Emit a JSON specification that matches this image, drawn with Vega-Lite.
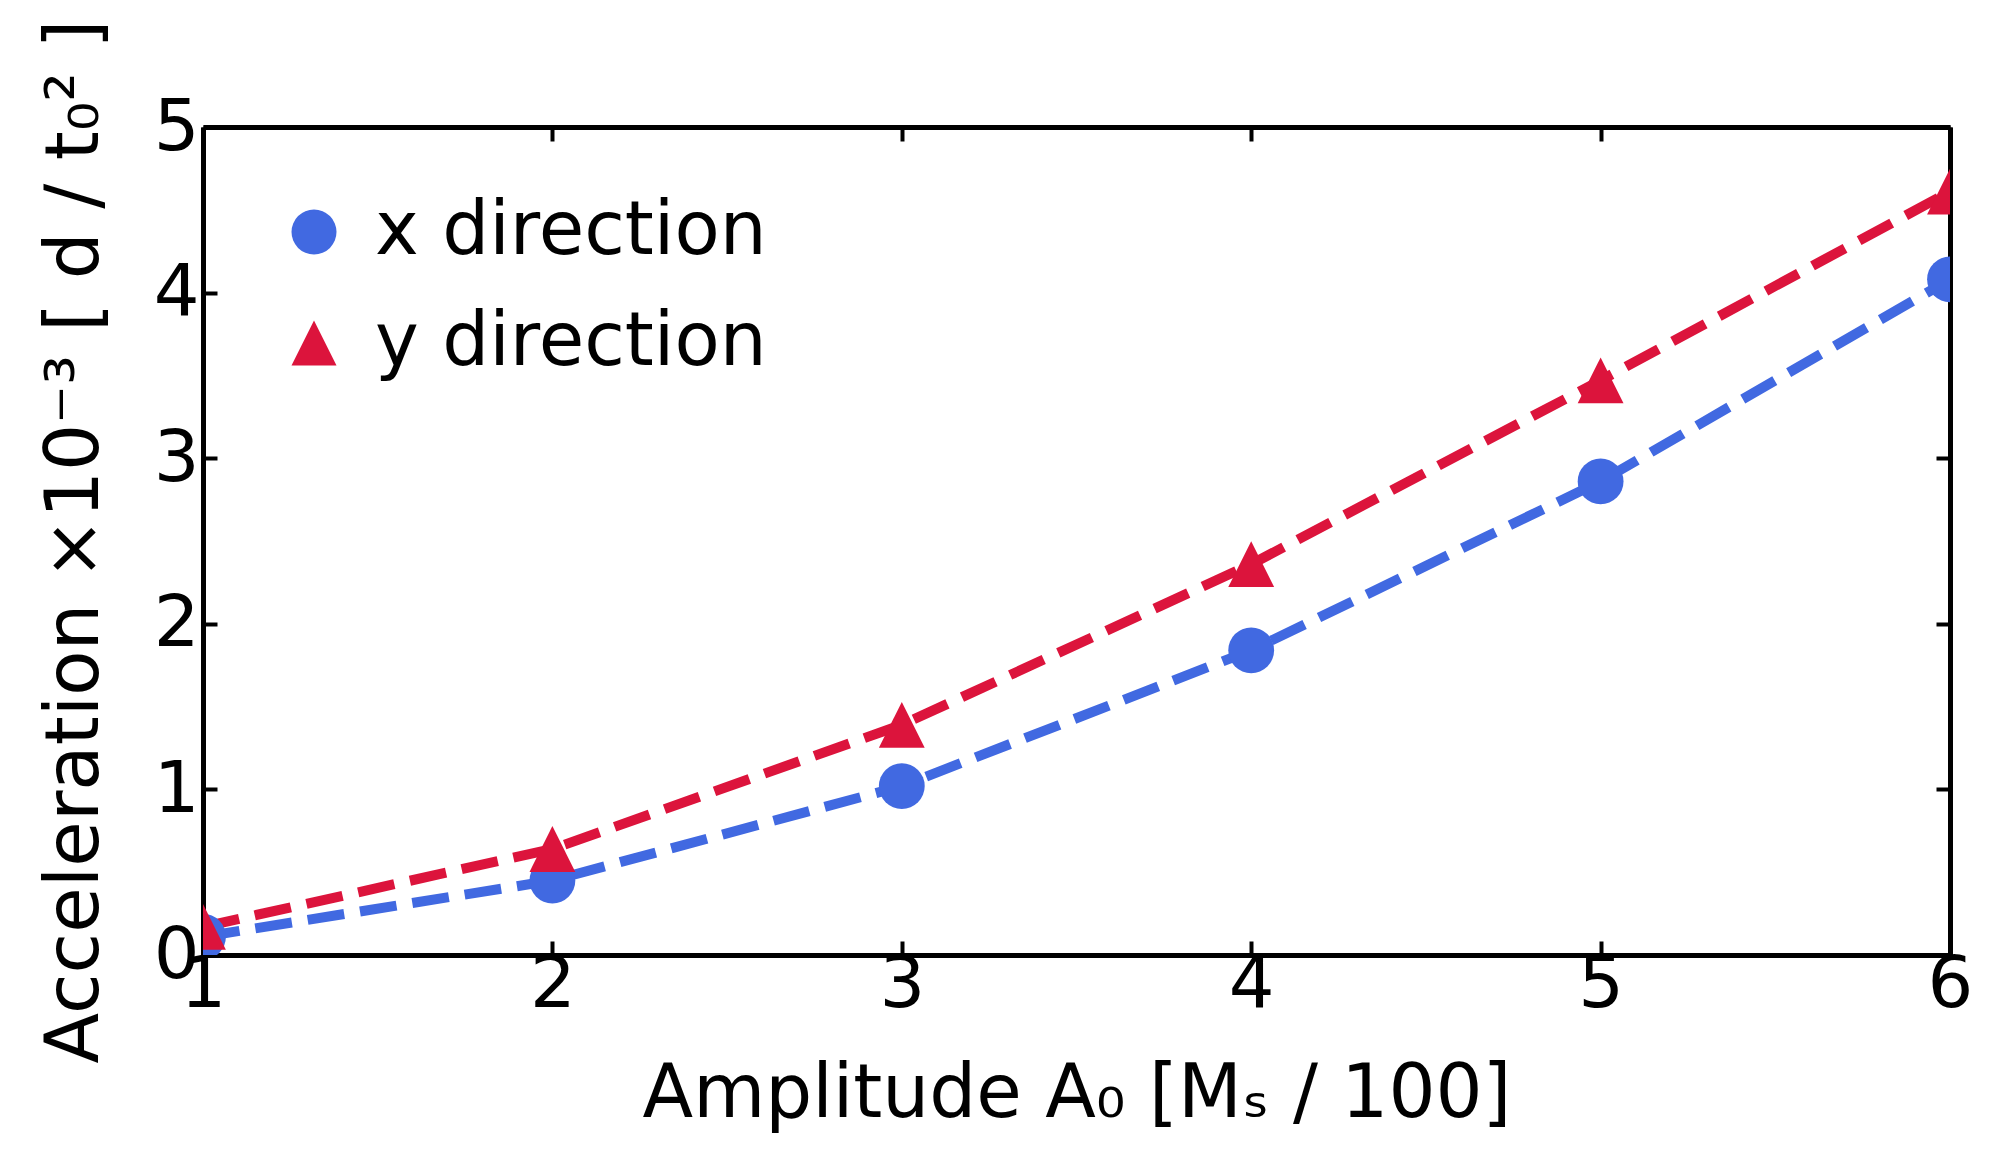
{
  "$schema": "https://vega.github.io/schema/vega-lite/v6.json",
  "description": "Acceleration vs amplitude in x and y direction",
  "width": 1747,
  "height": 828,
  "autosize": {"type": "none"},
  "padding": {"left": 203, "top": 127, "right": 47, "bottom": 211},
  "background": "white",
  "data": {
    "values": [
      {"A0": 1, "acc": 0.11, "series": "x direction"},
      {"A0": 2, "acc": 0.45, "series": "x direction"},
      {"A0": 3, "acc": 1.02, "series": "x direction"},
      {"A0": 4, "acc": 1.84, "series": "x direction"},
      {"A0": 5, "acc": 2.86, "series": "x direction"},
      {"A0": 6, "acc": 4.08, "series": "x direction"},
      {"A0": 1, "acc": 0.17, "series": "y direction"},
      {"A0": 2, "acc": 0.64, "series": "y direction"},
      {"A0": 3, "acc": 1.39, "series": "y direction"},
      {"A0": 4, "acc": 2.36, "series": "y direction"},
      {"A0": 5, "acc": 3.47, "series": "y direction"},
      {"A0": 6, "acc": 4.61, "series": "y direction"}
    ]
  },
  "encoding": {
    "color": {
      "field": "series", "type": "nominal",
      "scale": {"domain": ["x direction", "y direction"], "range": ["#4169E1", "#DC143C"]},
      "legend": {"title": null, "orient": "none", "legendX": 74, "legendY": 68}
    }
  },
  "layer": [
    {
      "mark": {"type": "line", "strokeWidth": 10, "strokeDash": [37, 16], "clip": true},
      "encoding": {
        "x": {
          "field": "A0", "type": "quantitative",
          "scale": {"domain": [1, 6], "nice": false, "zero": false},
          "axis": {"orient": "bottom", "values": [1, 2, 3, 4, 5, 6], "title": "Amplitude A₀ [Mₛ / 100]", "titlePadding": 38}
        },
        "y": {
          "field": "acc", "type": "quantitative",
          "scale": {"domain": [0, 5], "nice": false},
          "axis": {"orient": "left", "values": [0, 1, 2, 3, 4, 5], "title": "Acceleration ×10⁻³ [ d / t₀² ]", "titlePadding": 40}
        }
      }
    },
    {
      "mark": {"type": "point", "filled": true, "opacity": 1, "size": 2100, "clip": true},
      "encoding": {
        "x": {
          "field": "A0", "type": "quantitative",
          "axis": {"orient": "top", "values": [1, 2, 3, 4, 5, 6], "labels": false, "title": null}
        },
        "y": {
          "field": "acc", "type": "quantitative",
          "axis": {"orient": "right", "values": [0, 1, 2, 3, 4, 5], "labels": false, "title": null}
        },
        "shape": {
          "field": "series", "type": "nominal",
          "scale": {"domain": ["x direction", "y direction"], "range": ["circle", "M0,-1L1,1L-1,1Z"]},
          "legend": {"title": null, "orient": "none", "legendX": 74, "legendY": 68}
        }
      }
    }
  ],
  "resolve": {"axis": {"x": "independent", "y": "independent"}},
  "config": {
    "view": {"stroke": null},
    "font": "DejaVu Sans",
    "legend": {
      "padding": 0,
      "symbolSize": 2025,
      "symbolOpacity": 1,
      "symbolStrokeWidth": 0,
      "symbolType": "circle",
      "labelFontSize": 74,
      "labelFont": "DejaVu Sans",
      "labelColor": "black",
      "labelOffset": 24,
      "rowPadding": 37,
      "labelLimit": 2000
    },
    "axis": {
      "grid": false,
      "domain": true,
      "domainColor": "black",
      "domainWidth": 5,
      "ticks": true,
      "tickColor": "black",
      "tickWidth": 4,
      "tickSize": -14,
      "labelFont": "DejaVu Sans",
      "labelFontSize": 72,
      "labelColor": "black",
      "labelFlush": false,
      "labelOverlap": false,
      "labelBound": false,
      "labelPadding": 8,
      "titleFont": "DejaVu Sans",
      "titleFontSize": 74,
      "titleFontWeight": "normal",
      "titleColor": "black",
      "titlePadding": 24,
      "zindex": 1
    },
    "axisLeft": {"labelPadding": 18}
  }
}
